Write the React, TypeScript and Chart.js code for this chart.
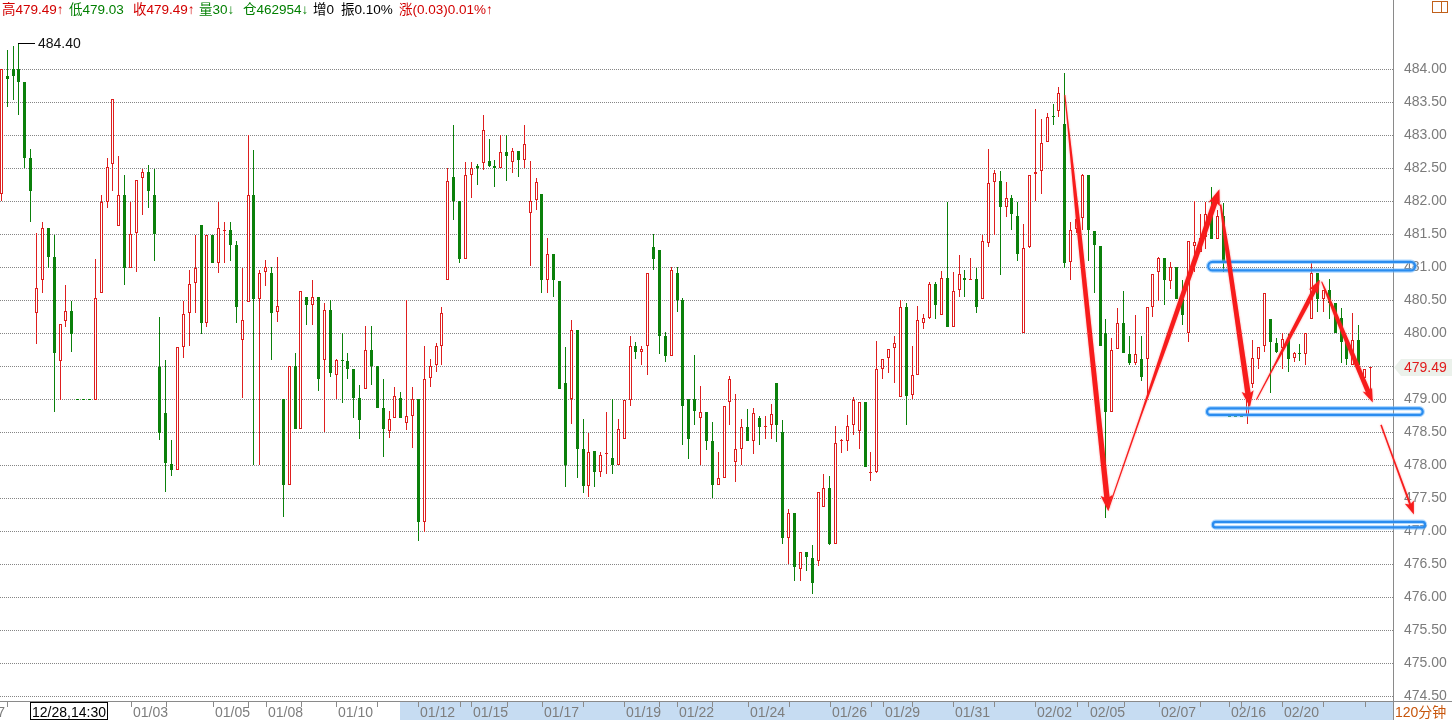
import React, { useEffect, useRef } from 'react';
import { Chart, registerables } from 'chart.js';

Chart.register(...registerables);

// ---------------- data (120-minute bars) ----------------
const opens: number[] = [
  482.11, 483.90, 484.00, 484.00, 483.80, 482.66, 480.31, 480.81, 481.59, 481.15,
  479.58, 480.19, 480.34, 478.99, 478.99, 478.99, 478.99, 480.61, 481.99, 482.56,
  481.63, 482.10, 480.99, 481.52, 482.35, 482.44, 482.10, 479.48, 478.79, 478.02,
  477.93, 479.79, 480.30, 480.76, 481.64, 480.16, 481.49, 481.07, 481.55, 481.57,
  481.34, 479.90, 480.47, 482.10, 480.51, 480.92, 480.91, 480.32, 479.00, 477.70,
  479.50, 478.55, 480.55, 480.42, 480.55, 479.60, 480.35, 479.36, 479.59, 479.58,
  479.46, 479.02, 479.15, 479.75, 479.50, 478.87, 478.52, 478.71, 479.02, 478.64,
  478.75, 479.00, 477.14, 479.32, 479.51, 479.81, 480.81, 482.36, 482.00, 481.12,
  482.40, 482.54, 482.58, 482.61, 482.53, 482.51, 482.75, 482.59, 482.76, 482.62,
  481.82, 482.01, 482.11, 480.81, 481.20, 480.79, 479.25, 479.00, 480.05, 478.25,
  477.69, 478.21, 477.90, 478.17, 478.10, 478.00, 478.40, 478.99, 479.80, 479.71,
  479.80, 481.30, 481.26, 479.95, 479.65, 480.91, 480.50, 479.00, 479.00, 478.72,
  478.81, 478.36, 477.70, 477.81, 478.96, 478.04, 478.25, 478.57, 478.37, 478.71,
  478.57, 478.60, 479.24, 478.50, 476.90, 477.28, 476.42, 476.69, 476.59, 476.54,
  477.36, 477.65, 476.81, 478.36, 478.37, 478.60, 478.52, 478.95, 477.88, 477.90,
  479.46, 479.62, 479.77, 479.03, 480.40, 479.06, 479.37, 480.16, 480.23, 480.74,
  480.27, 480.83, 480.10, 480.65, 480.83, 480.80, 480.82, 480.52, 481.36, 482.29,
  482.30, 481.91, 482.05, 481.77, 480.00, 481.30, 482.41, 482.45, 482.89, 483.29,
  483.36, 483.17, 481.08, 481.58, 481.75, 482.40, 481.55, 481.32, 480.00, 478.80,
  479.76, 480.15, 479.68, 479.54, 479.61, 479.61, 480.40, 480.92, 481.14, 480.79,
  481.00, 480.51, 480.00, 481.32, 481.23, 481.45, 481.81, 481.43, 481.77, 478.73,
  478.73, 478.73, 478.75, 479.23, 479.61, 479.80, 480.22, 479.85, 479.77, 479.91,
  479.62, 479.70, 479.69, 480.22, 480.91, 480.51, 480.65, 480.46, 480.23, 479.87,
  479.51, 479.90, 479.32, 479.47,
];
const highs: number[] = [
  484.00, 484.29, 484.35, 484.40, 483.80, 482.79, 481.52, 481.68, 481.59, 481.49,
  480.14, 480.73, 480.48, 478.99, 478.99, 478.99, 481.12, 482.10, 482.65, 483.55,
  482.69, 482.40, 481.98, 482.32, 482.48, 482.55, 482.48, 480.25, 479.60, 478.38,
  479.79, 480.48, 480.96, 481.49, 481.64, 481.49, 481.49, 481.98, 481.68, 481.68,
  481.40, 480.99, 483.01, 482.78, 480.95, 481.11, 481.00, 481.15, 479.00, 479.50,
  479.70, 480.64, 480.55, 480.81, 480.55, 480.45, 480.50, 479.61, 480.00, 479.70,
  479.46, 479.21, 480.11, 480.11, 479.50, 479.31, 478.82, 479.18, 479.11, 480.50,
  479.19, 479.00, 479.81, 479.61, 479.85, 480.39, 482.50, 483.15, 482.00, 482.59,
  482.59, 482.57, 483.31, 482.94, 482.63, 483.00, 483.00, 482.81, 482.76, 483.16,
  482.61, 482.35, 482.11, 481.44, 481.20, 480.79, 479.79, 480.20, 480.05, 478.70,
  478.49, 478.22, 478.20, 478.80, 479.00, 478.70, 478.99, 479.95, 479.86, 479.81,
  480.91, 481.50, 481.26, 480.02, 481.00, 481.00, 480.53, 479.00, 479.67, 479.20,
  478.81, 478.66, 478.20, 478.89, 479.35, 479.07, 478.70, 478.85, 478.86, 478.75,
  478.75, 478.92, 479.24, 478.68, 477.34, 477.28, 476.69, 476.69, 476.79, 477.59,
  477.87, 477.83, 478.59, 478.39, 478.76, 479.03, 478.96, 478.95, 478.20, 479.88,
  479.61, 479.76, 479.96, 480.50, 480.46, 479.81, 480.41, 480.29, 480.78, 480.78,
  480.94, 481.98, 480.92, 481.19, 480.95, 481.14, 480.98, 481.49, 482.79, 482.47,
  482.46, 482.29, 482.10, 481.98, 481.65, 482.39, 483.39, 483.24, 483.33, 483.48,
  483.73, 483.94, 481.68, 481.82, 482.41, 482.40, 481.55, 481.32, 480.22, 479.92,
  480.38, 480.64, 479.96, 480.28, 479.95, 480.39, 480.90, 481.15, 481.14, 481.08,
  481.00, 480.80, 481.39, 482.00, 481.81, 481.99, 482.21, 481.86, 481.97, 478.73,
  478.73, 478.73, 479.10, 479.90, 479.79, 480.61, 480.22, 479.92, 480.00, 479.99,
  479.72, 479.84, 480.00, 481.09, 480.91, 480.65, 480.82, 480.46, 480.38, 479.87,
  480.30, 480.12, 479.46, 479.49,
];
const lows: number[] = [
  482.00, 483.42, 483.53, 483.30, 482.51, 481.69, 479.83, 480.61, 480.98, 478.81,
  478.99, 480.10, 479.72, 478.99, 478.99, 478.99, 478.99, 480.61, 481.90, 482.16,
  481.63, 480.73, 480.99, 480.92, 481.79, 481.90, 481.10, 478.38, 477.59, 477.84,
  477.93, 479.62, 479.80, 480.30, 479.99, 480.09, 481.07, 480.91, 481.06, 481.10,
  480.15, 479.01, 480.47, 478.00, 478.00, 480.71, 479.59, 480.17, 477.21, 477.70,
  478.55, 478.55, 480.12, 480.13, 479.12, 478.50, 479.33, 479.00, 478.94, 479.31,
  478.72, 478.40, 479.15, 479.21, 478.87, 478.12, 478.41, 478.71, 478.71, 478.53,
  478.26, 476.85, 476.99, 479.18, 479.41, 479.51, 480.81, 481.71, 481.07, 481.12,
  482.05, 482.25, 482.47, 482.52, 482.22, 482.51, 482.31, 482.42, 482.36, 482.50,
  481.01, 481.86, 480.61, 480.61, 480.54, 479.15, 477.67, 478.63, 477.81, 477.57,
  477.52, 477.67, 477.82, 477.87, 477.86, 478.00, 478.40, 478.89, 479.61, 479.51,
  479.37, 480.96, 479.69, 479.56, 479.65, 480.32, 478.31, 478.09, 478.60, 478.00,
  478.23, 477.50, 477.70, 477.81, 478.60, 477.75, 478.00, 478.37, 478.17, 478.30,
  478.40, 478.40, 478.35, 476.80, 476.50, 476.25, 476.25, 476.40, 476.04, 476.47,
  477.36, 476.79, 476.81, 478.18, 478.22, 478.46, 478.25, 477.97, 477.76, 477.88,
  479.30, 479.39, 479.24, 479.03, 478.60, 479.00, 479.37, 480.07, 480.22, 480.22,
  480.27, 480.10, 480.10, 480.55, 480.55, 480.80, 480.30, 480.52, 481.31, 481.49,
  480.88, 481.76, 481.56, 481.10, 480.00, 481.29, 482.00, 482.11, 482.89, 483.15,
  483.27, 480.99, 480.80, 481.52, 481.57, 481.10, 480.61, 479.80, 477.20, 478.80,
  479.76, 479.70, 479.51, 479.51, 479.27, 479.04, 480.24, 480.48, 480.42, 480.67,
  480.51, 480.12, 479.86, 480.92, 481.23, 481.28, 481.42, 481.42, 480.92, 478.73,
  478.73, 478.73, 478.62, 479.17, 479.45, 479.71, 479.09, 479.70, 479.46, 479.41,
  479.56, 479.58, 479.51, 480.22, 480.32, 480.32, 480.22, 480.00, 479.54, 479.51,
  479.51, 479.51, 479.31, 479.03,
];
const closes: number[] = [
  484.00, 483.85, 483.90, 483.80, 482.66, 482.15, 480.68, 481.59, 481.16, 479.70,
  480.14, 480.34, 479.99, 478.99, 478.99, 478.99, 480.53, 481.98, 482.52, 483.55,
  482.10, 480.99, 481.50, 482.32, 482.44, 482.15, 481.50, 478.49, 478.03, 477.92,
  479.79, 480.29, 480.74, 480.98, 480.16, 481.49, 481.07, 481.59, 481.57, 481.34,
  480.40, 480.20, 482.09, 480.51, 480.91, 481.00, 480.31, 480.41, 477.70, 479.50,
  478.55, 480.64, 480.42, 480.55, 479.31, 480.35, 479.40, 479.60, 479.58, 479.46,
  479.02, 478.68, 479.75, 479.50, 478.87, 478.55, 478.70, 479.05, 478.71, 478.74,
  479.00, 477.14, 479.31, 479.50, 479.80, 480.30, 482.30, 482.00, 481.12, 482.39,
  482.50, 482.50, 483.08, 482.54, 482.50, 482.74, 482.68, 482.76, 482.62, 482.87,
  482.00, 482.29, 480.81, 481.20, 480.80, 479.16, 478.00, 480.05, 478.25, 477.69,
  478.20, 477.90, 478.16, 478.19, 478.00, 478.55, 478.99, 479.80, 479.71, 479.76,
  480.91, 481.12, 479.96, 479.65, 480.95, 480.50, 478.90, 478.39, 478.82, 478.81,
  478.37, 477.70, 477.81, 478.89, 479.30, 478.24, 478.57, 478.37, 478.79, 478.58,
  478.58, 478.77, 478.60, 476.89, 477.28, 476.45, 476.69, 476.60, 476.21, 477.59,
  477.65, 476.81, 478.34, 478.38, 478.59, 478.99, 478.95, 477.97, 477.90, 479.45,
  479.61, 479.76, 479.85, 480.40, 479.05, 479.36, 480.20, 480.23, 480.74, 480.43,
  480.83, 480.10, 480.64, 480.89, 480.80, 480.81, 480.39, 481.39, 482.27, 482.42,
  481.91, 482.05, 481.80, 481.20, 481.29, 482.39, 482.44, 482.88, 483.28, 483.28,
  483.64, 481.07, 481.56, 481.73, 482.40, 481.56, 481.33, 479.80, 478.80, 479.75,
  480.15, 479.70, 479.54, 479.68, 479.34, 480.39, 480.90, 481.14, 480.80, 481.00,
  480.51, 480.27, 481.39, 481.38, 481.44, 481.81, 481.43, 481.77, 481.09, 478.73,
  478.73, 478.73, 479.00, 479.62, 479.79, 480.61, 479.86, 479.71, 479.91, 479.61,
  479.70, 479.68, 480.00, 480.91, 480.51, 480.65, 480.46, 480.00, 479.87, 479.61,
  479.89, 479.51, 479.46, 479.49,
];

// price axis ticks
const yTicks: number[] = [
  474.5, 475.0, 475.5, 476.0, 476.5, 477.0, 477.5, 478.0, 478.5, 479.0,
  479.5, 480.0, 480.5, 481.0, 481.5, 482.0, 482.5, 483.0, 483.5, 484.0,
];

// date axis: bar index where each labelled day starts, and the labels
const dayLabelIdx: number[] = [-5.6, 22, 36, 45, 57, 71, 80, 92, 106, 115, 127, 141, 150, 162, 176, 185, 197, 209, 218];
const dayLabels: string[] = ['12/27', '01/03', '01/05', '01/08', '01/10', '01/12', '01/15', '01/17', '01/19', '01/22', '01/24', '01/26', '01/29', '01/31', '02/02', '02/05', '02/07', '02/16', '02/20'];
// unlabelled session ticks (bar index)
const sessionTickIdx: number[] = [1, 28, 42, 51, 64, 78, 86, 99, 112, 121, 134, 148, 155, 169, 183, 191, 204, 211, 225, 232];

const cursorIdx = 5;
const cursorLabel = '12/28,14:30';
const highlightFromIdx = 68;
const periodLabel = '120分钟';

// header quote info
const lastVolume = 30;
const openInterest = 462954;
const oiChange = 0;

// hand-drawn annotations (bar index / price)
const arrowFromIdx: number[] = [181.0, 188.4, 207.5, 213.6, 224.7, 234.8];
const arrowFromPrice: number[] = [483.61, 477.33, 481.95, 478.99, 480.78, 478.61];
const arrowToIdx: number[] = [188.4, 207.3, 212.5, 224.4, 233.4, 240.4];
const arrowToPrice: number[] = [477.30, 482.18, 478.88, 480.81, 478.95, 477.25];

const boxFromIdx: number[] = [205.4, 205.2, 206.2];
const boxToIdx: number[] = [240.6, 241.9, 242.3];
const boxTopPrice: number[] = [481.08, 478.86, 477.14];
const boxBottomPrice: number[] = [480.95, 478.76, 477.055];

// ---------------- styling ----------------
const RED = '#de1f1f';
const GREEN = '#0b800b';
const FONT = '"Liberation Sans", Arial, "Noto Sans CJK SC", sans-serif';
const Y_MAX = 484.74566;
const Y_MIN = 474.43046;
const X_MIN = -0.2212;
const X_MAX = 236.845;

// per-arrow look: shaft thickness, head size, and the share of the shaft that stays thin
const arrowShaft: number[] = [1, 1, 1, 0.85, 0.9, 0.35];
const arrowHead: number[] = [1, 1, 1, 0.85, 0.85, 0.8];
const arrowThin: number[] = [0.08, 0.3, 0.0, 0.3, 0.05, 0.0];

function drawTaperArrow(
  ctx: CanvasRenderingContext2D, x0: number, y0: number, x1: number, y1: number,
  ks: number, kh: number, thin: number,
) {
  const dx = x1 - x0, dy = y1 - y0;
  const len = Math.hypot(dx, dy);
  const ux = dx / len, uy = dy / len;
  const nx = -uy, ny = ux;
  const headLen = 14 * kh, headW = 6 * kh;
  const tailW = 0.5, thinW = 0.75, midW = 2.1 * ks, baseW = 2.7 * ks;
  const bx = x1 - ux * headLen, by = y1 - uy * headLen;
  const P = (t: number) => [x0 + (bx - x0) * t, y0 + (by - y0) * t];
  const [tx, ty] = P(thin);
  const [mx, my] = P(Math.min(thin + 0.25, 0.9));
  ctx.beginPath();
  ctx.moveTo(x0 + nx * tailW, y0 + ny * tailW);
  ctx.lineTo(tx + nx * thinW, ty + ny * thinW);
  ctx.lineTo(mx + nx * midW, my + ny * midW);
  ctx.lineTo(bx + nx * baseW, by + ny * baseW);
  ctx.lineTo(bx - ux * 2 + nx * headW, by - uy * 2 + ny * headW);
  ctx.lineTo(x1, y1);
  ctx.lineTo(bx - ux * 2 - nx * headW, by - uy * 2 - ny * headW);
  ctx.lineTo(bx - nx * baseW, by - ny * baseW);
  ctx.lineTo(mx - nx * midW, my - ny * midW);
  ctx.lineTo(tx - nx * thinW, ty - ny * thinW);
  ctx.lineTo(x0 - nx * tailW, y0 - ny * tailW);
  ctx.closePath();
  ctx.fill();
}

const overlayPlugin = {
  id: 'klineOverlay',
  beforeDatasetsDraw(chart: any) {
    chart.data.datasets.forEach((_: any, di: number) => {
      const meta = chart.getDatasetMeta(di);
      meta.data.forEach((el: any) => {
        el.x = Math.floor(el.x) + 0.5;
        el.y = Math.round(el.y);
        el.base = Math.round(el.base);
      });
    });
  },
  afterDraw(chart: any) {
    const ctx: CanvasRenderingContext2D = chart.ctx;
    const xs = chart.scales.x;
    const ys = chart.scales.y;
    const ca = chart.chartArea;
    const W = chart.width, H = chart.height;
    const X = (i: number) => xs.getPixelForValue(i);
    const Y = (v: number) => ys.getPixelForValue(v);
    const n = closes.length;
    const last = n - 1;
    const rowTop = Math.round(ca.bottom);
    const right = Math.round(ca.right);

    ctx.save();
    // ---- date axis row ----
    ctx.fillStyle = '#ffffff';
    ctx.fillRect(0, rowTop, W, H - rowTop);
    const bandX = Math.round(X(highlightFromIdx)) - 1;
    ctx.fillStyle = '#c6dcf2';
    ctx.fillRect(bandX, rowTop + 1, right - bandX, H - rowTop - 1);

    ctx.strokeStyle = '#8a8a8a';
    ctx.lineWidth = 1;
    ctx.beginPath();
    ctx.moveTo(0, rowTop + 0.5);
    ctx.lineTo(W, rowTop + 0.5);
    ctx.moveTo(right + 0.5, 0);
    ctx.lineTo(right + 0.5, H);
    ctx.stroke();

    ctx.beginPath();
    [...dayLabelIdx, ...sessionTickIdx].forEach((i) => {
      const x = Math.round(X(i)) + 0.5;
      if (x > right || x < 0) return;
      ctx.moveTo(x, rowTop + 1);
      ctx.lineTo(x, rowTop + 6);
    });
    ctx.strokeStyle = '#8a8a8a';
    ctx.stroke();

    ctx.font = `14px ${FONT}`;
    ctx.textBaseline = 'alphabetic';
    ctx.textAlign = 'left';
    ctx.fillStyle = '#7d7d7d';
    dayLabels.forEach((lab, k) => {
      ctx.fillText(lab, Math.round(X(dayLabelIdx[k])) + 2, 717);
    });

    // cursor date box
    const cx = Math.round(X(cursorIdx)) - 1;
    const cw = Math.ceil(ctx.measureText(cursorLabel).width) + 4;
    ctx.fillStyle = '#ffffff';
    ctx.fillRect(cx, rowTop + 1, cw, H - rowTop - 1);
    ctx.strokeStyle = '#000000';
    ctx.strokeRect(cx + 0.5, rowTop + 1.5, cw - 1, H - rowTop - 2);
    ctx.fillStyle = '#000000';
    ctx.fillText(cursorLabel, cx + 2, 717);

    // period label
    ctx.fillStyle = '#ffffff';
    ctx.fillRect(right + 1, rowTop + 1, W - right - 1, H - rowTop - 1);
    ctx.fillStyle = '#c8560c';
    ctx.fillText(periodLabel, right + 2, 717);

    // ---- last price tag ----
    const py = Math.round(Y(closes[last]));
    ctx.fillStyle = '#ebf1eb';
    ctx.beginPath();
    ctx.moveTo(right + 1, py + 0.5);
    ctx.lineTo(right + 8, py - 8);
    ctx.lineTo(W, py - 8);
    ctx.lineTo(W, py + 9);
    ctx.lineTo(right + 8, py + 9);
    ctx.closePath();
    ctx.fill();
    ctx.fillStyle = '#e01b1b';
    ctx.font = `14px ${FONT}`;
    ctx.textBaseline = 'middle';
    ctx.fillText(closes[last].toFixed(2), right + 11, py + 1);

    // ---- max high marker ----
    let mi = 0;
    highs.forEach((h, i) => { if (h > highs[mi]) mi = i; });
    const mx = Math.floor(X(mi));
    const my = Math.round(Y(highs[mi])) + 0.5;
    ctx.strokeStyle = '#000000';
    ctx.beginPath();
    ctx.moveTo(mx, my);
    ctx.lineTo(mx + 17, my);
    ctx.stroke();
    ctx.fillStyle = '#111111';
    ctx.fillText(highs[mi].toFixed(2), mx + 20, my + 1);

    // ---- header ----
    const prev = closes[last - 1];
    const chg = closes[last] - prev;
    const pct = (chg / prev) * 100;
    const amp = ((highs[last] - lows[last]) / prev) * 100;
    const HR = '#d20000', HG = '#007f00';
    const segs = [
      { x: 2, t: `高${highs[last].toFixed(2)}↑`, c: HR },
      { x: 69, t: `低${lows[last].toFixed(2)}`, c: HG },
      { x: 133, t: `收${closes[last].toFixed(2)}↑`, c: HR },
      { x: 199, t: `量${lastVolume}↓`, c: HG },
      { x: 243, t: `仓${openInterest}↓`, c: HG },
      { x: 313, t: `增${oiChange}`, c: '#000000' },
      { x: 341, t: `振${amp.toFixed(2)}%`, c: '#000000' },
      { x: 399, t: `涨(${chg.toFixed(2)})${pct.toFixed(2)}%↑`, c: HR },
    ];
    ctx.font = `13.5px ${FONT}`;
    ctx.textBaseline = 'alphabetic';
    segs.forEach((s) => {
      ctx.fillStyle = s.c;
      ctx.fillText(s.t, s.x, 14);
    });

    // top-right icon
    ctx.strokeStyle = '#c0601a';
    ctx.strokeRect(1432.5, 1.5, 15, 11);
    ctx.beginPath();
    ctx.moveTo(1441.5, 1.5);
    ctx.lineTo(1441.5, 12.5);
    ctx.stroke();

    // ---- annotations: boxes ----
    boxFromIdx.forEach((_, k) => {
      const x0 = X(boxFromIdx[k]);
      const x1 = X(boxToIdx[k]);
      const y0 = Y(boxTopPrice[k]);
      const y1 = Y(boxBottomPrice[k]);
      const r = Math.min((y1 - y0) / 2, 5);
      ctx.beginPath();
      (ctx as any).roundRect(x0, y0, x1 - x0, y1 - y0, r);
      ctx.strokeStyle = 'rgba(110,185,255,0.55)';
      ctx.lineWidth = 4.5;
      ctx.stroke();
      ctx.strokeStyle = '#2a8cef';
      ctx.lineWidth = 2.2;
      ctx.stroke();
    });

    // ---- annotations: arrows ----
    ctx.fillStyle = '#f71c1c';
    ctx.shadowColor = 'rgba(255,70,70,0.55)';
    ctx.shadowBlur = 2;
    arrowFromIdx.forEach((_, k) => {
      drawTaperArrow(
        ctx,
        X(arrowFromIdx[k]), Y(arrowFromPrice[k]),
        X(arrowToIdx[k]), Y(arrowToPrice[k]),
        arrowShaft[k], arrowHead[k], arrowThin[k],
      );
    });
    ctx.restore();
  },
};

export default function App() {
  const ref = useRef<HTMLCanvasElement | null>(null);

  useEffect(() => {
    const idx = opens.map((_, i) => i);
    const up = idx.map((i) => closes[i] > opens[i]);
    const chart = new Chart(ref.current as HTMLCanvasElement, {
      type: 'bar',
      data: {
        datasets: [
          {
            label: 'wick',
            data: idx.map((i) => ({ x: i, y: [lows[i], highs[i]] })) as any,
            backgroundColor: up.map((u) => (u ? RED : GREEN)),
            borderWidth: 0,
            barThickness: 1,
            minBarLength: 1,
            inflateAmount: 0,
            stack: 'k',
            order: 2,
          } as any,
          {
            label: 'body',
            data: idx.map((i) => ({ x: i, y: [opens[i], closes[i]] })) as any,
            backgroundColor: up.map((u) => (u ? '#ffffff' : GREEN)),
            borderColor: up.map((u) => (u ? RED : GREEN)),
            borderWidth: 1,
            borderSkipped: false,
            barThickness: 3,
            minBarLength: 1,
            inflateAmount: 0,
            stack: 'k',
            order: 1,
          } as any,
        ],
      },
      options: {
        responsive: false,
        maintainAspectRatio: false,
        animation: false,
        devicePixelRatio: 1,
        events: [],
        layout: { padding: { top: 20, bottom: 18, left: 0, right: 0 } },
        plugins: {
          legend: { display: false },
          tooltip: { enabled: false },
        },
        scales: {
          x: {
            type: 'linear',
            display: false,
            min: X_MIN,
            max: X_MAX,
            offset: false,
            grid: { offset: false },
          },
          y: {
            position: 'right',
            min: Y_MIN,
            max: Y_MAX,
            stacked: false,
            afterBuildTicks: (s: any) => {
              s.ticks = yTicks.map((v) => ({ value: v }));
            },
            afterFit: (s: any) => {
              s.width = 59;
            },
            grid: { color: '#858585', lineWidth: 1, drawTicks: false },
            border: { display: false, dash: [1, 1] },
            ticks: {
              padding: 11,
              color: '#7b7b7b',
              font: { family: FONT, size: 14 },
              callback: (v: any) => Number(v).toFixed(2),
            },
          },
        },
      } as any,
      plugins: [overlayPlugin],
    });
    return () => chart.destroy();
  }, []);

  return (
    <div style={{ position: 'fixed', left: 0, top: 0, width: 1452, height: 720, background: '#ffffff' }}>
      <canvas ref={ref} width={1452} height={720} style={{ display: 'block', width: 1452, height: 720 }} />
    </div>
  );
}
